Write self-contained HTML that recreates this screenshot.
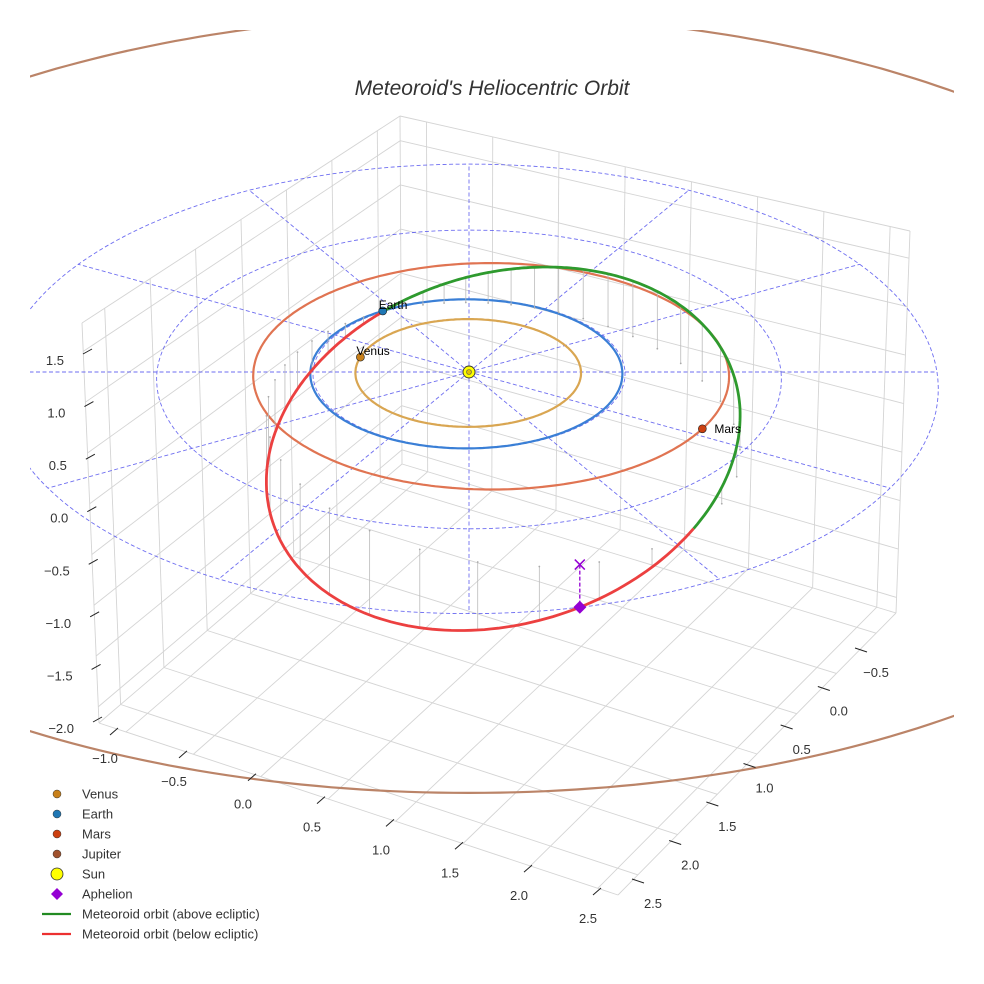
<!DOCTYPE html>
<html><head><meta charset="utf-8">
<style>
html,body{margin:0;padding:0;background:#fff;}
svg{display:block;font-family:"Liberation Sans",sans-serif;}
</style></head>
<body>
<svg id="chart" width="984" height="984" viewBox="0 0 984 984" xmlns="http://www.w3.org/2000/svg">
<defs><clipPath id="clip"><rect x="30" y="30" width="924" height="924"/></clipPath></defs>
<rect width="984" height="984" fill="#fff"/>
<g id="grid"></g>
<g id="plot" clip-path="url(#clip)"></g>
<g id="ticks"></g>
<text x="492" y="95" text-anchor="middle" font-size="21" font-style="italic" fill="#333">Meteoroid's Heliocentric Orbit</text>
<g id="legend"></g>
</svg>
<script>
// ---- data ----
const planetNames = ["Venus","Earth","Mars","Jupiter"];
const planetA = [0.723, 1.0, 1.524, 5.2];
const planetE = [0.007, 0.017, 0.093, 0.048];
const planetPeri = [0, 0, 180, 90];        // perihelion angle (deg) in ecliptic
const planetPos = [-164, -124, 27, 200];   // current angle (deg)
const planetOrbitColors = ["#d9a652","#3a7fd6","#e07452","#bb8468"];
const planetMarkerColors = ["#c8801a","#1f77b4","#cc4010","#a0522d"];
const gridRadii = [1, 2, 3];
const gridAngles = [0,30,60,90,120,150,180,210,240,270,300,330];
// meteoroid orbital elements (relative to line of nodes)
const metP = [1.415];
const metE = [0.445];
const metInc = [26];
const metNodeDir = [55.6];
const metPeriFromNode = [201];
const xTicks = [-1.0,-0.5,0.0,0.5,1.0,1.5,2.0,2.5];
const yTicks = [-0.5,0.0,0.5,1.0,1.5,2.0,2.5];
const zTicks = [-2.0,-1.5,-1.0,-0.5,0.0,0.5,1.0,1.5];
const xRange = [-1.2, 2.65];
const yRange = [-0.75, 2.75];
const zRange = [-2.16, 1.78];

const NS = "http://www.w3.org/2000/svg";
function mk(tag, attrs, parent){const e=document.createElementNS(NS,tag);for(const k in attrs)e.setAttribute(k,attrs[k]);parent.appendChild(e);return e;}
function P(u,v,z){const f=1/(1-0.025*v);return [469+156*u*f, 372+(74.5*v-100*z)*f];}
const D2R=Math.PI/180;
const plot=document.getElementById('plot'), grid=document.getElementById('grid'), ticks=document.getElementById('ticks'), legend=document.getElementById('legend');

// ---- box & gridlines ----
const T=[400,116],L=[82,323],B=[99,723],A=[402,464],R=[910,231],Dc=[896,613],C=[618,895];
function lerp(p,q,t){return [p[0]+(q[0]-p[0])*t,p[1]+(q[1]-p[1])*t];}
function fr(v,r){return (v-r[0])/(r[1]-r[0]);}
function gl(p,q,name){const l=mk('line',{x1:p[0],y1:p[1],x2:q[0],y2:q[1],stroke:'#d4d4d4','stroke-width':0.9},grid);

}
xTicks.forEach(t=>{const f=fr(t,xRange);gl(lerp(A,Dc,f),lerp(B,C,f),'floor-gridline-x');gl(lerp(T,R,f),lerp(A,Dc,f),'wall-gridline-x');});
yTicks.forEach(t=>{const f=fr(t,yRange);gl(lerp(A,B,f),lerp(Dc,C,f),'floor-gridline-y');gl(lerp(T,L,f),lerp(A,B,f),'wall-gridline-y');});
zTicks.forEach(t=>{const f=fr(t,zRange);gl(lerp(A,T,f),lerp(B,L,f),'wall-gridline-z');gl(lerp(A,T,f),lerp(Dc,R,f),'wall-gridline-z');});
[[T,L],[L,B],[B,A],[A,T],[T,R],[R,Dc],[Dc,A],[B,C],[C,Dc]].forEach(e=>gl(e[0],e[1],'box-edge'));

// ---- tick labels ----
function tickSet(vals,p0,p1,m0,m1,anchor,name){
  const n=vals.length;
  vals.forEach((v,i)=>{const t=(v-vals[0])/(vals[n-1]-vals[0]);const p=lerp(p0,p1,t);
    const tl=mk('line',{x1:p[0]+m0[0],y1:p[1]+m0[1],x2:p[0]+m1[0],y2:p[1]+m1[1],stroke:'#222','stroke-width':1},ticks);
    
    
    const tx=mk('text',{x:p[0],y:p[1]+5,'text-anchor':anchor,'font-size':13,fill:'#333'},ticks);
    tx.textContent=(v<0?'\u2212':'')+Math.abs(v).toFixed(1);
    
    });
}
tickSet(xTicks,[105,758],[588,918],[5,-23],[13,-30],'middle','x-axis');
tickSet(yTicks,[876,672],[653,903],[-21,-24],[-9,-20],'middle','y-axis');
tickSet(zTicks,[74,728],[64,360],[19,-6],[28,-11],'end','z-axis');

// ---- ecliptic dashed grid ----
function pathFrom(pts){return pts.map((p,i)=>(i?'L':'M')+p[0].toFixed(1)+' '+p[1].toFixed(1)).join(' ');}
gridRadii.forEach(r=>{const pts=[];for(let a=0;a<=360;a+=2)pts.push(P(r*Math.cos(a*D2R),r*Math.sin(a*D2R),0));
  const e=mk('path',{d:pathFrom(pts)+'Z',fill:'none',stroke:'#5555ee','stroke-width':0.9,'stroke-dasharray':'4 2.5',opacity:0.85},plot);
  
  });
gridAngles.forEach(a=>{const r=gridRadii[gridRadii.length-1];const p=P(r*Math.cos(a*D2R),r*Math.sin(a*D2R),0);const o=P(0,0,0);
  const e=mk('line',{x1:o[0],y1:o[1],x2:p[0],y2:p[1],stroke:'#5555ee','stroke-width':0.9,'stroke-dasharray':'4 2.5',opacity:0.85},plot);
  
  });

// ---- planet orbits ----
function planetR(i,a){const aa=planetA[i],e=planetE[i];return aa*(1-e*e)/(1+e*Math.cos((a-planetPeri[i])*D2R));}
planetNames.forEach((nm,i)=>{const pts=[];for(let a=0;a<=360;a+=1){const r=planetR(i,a);pts.push(P(r*Math.cos(a*D2R),r*Math.sin(a*D2R),0));}
  const e=mk('path',{d:pathFrom(pts)+'Z',fill:'none',stroke:planetOrbitColors[i],'stroke-width':2.2},plot);
  
  });

// ---- meteoroid orbit ----
const nd=metNodeDir[0]*D2R, inc=metInc[0]*D2R;
const n2=[Math.cos(nd),Math.sin(nd)], m=[-Math.sin(nd),Math.cos(nd)];
function met(psi){const r=metP[0]/(1+metE[0]*Math.cos((psi-metPeriFromNode[0])*D2R));const c=Math.cos(psi*D2R),s=Math.sin(psi*D2R);
  return [r*(c*n2[0]+s*Math.cos(inc)*m[0]), r*(c*n2[1]+s*Math.cos(inc)*m[1]), -r*s*Math.sin(inc)];}
// drop lines
for(let psi=0;psi<360;psi+=9){const q=met(psi);if(Math.abs(q[2])<0.05)continue;const p1=P(q[0],q[1],q[2]),p0=P(q[0],q[1],0);
  const e=mk('line',{x1:p0[0],y1:p0[1],x2:p1[0],y2:p1[1],stroke:'#bbb','stroke-width':0.8},plot);
  
  
  const d=mk('circle',{cx:p0[0],cy:p0[1],r:0.9,fill:'#aaa'},plot);
  
  }
const red=[],green=[];
for(let psi=0;psi<=180;psi+=1){const q=met(psi);red.push(P(q[0],q[1],q[2]));}
for(let psi=180;psi<=360;psi+=1){const q=met(psi);green.push(P(q[0],q[1],q[2]));}
const gp=mk('path',{d:pathFrom(green),fill:'none',stroke:'#2e9a2e','stroke-width':2.8},plot);


const rp=mk('path',{d:pathFrom(red),fill:'none',stroke:'#ec4040','stroke-width':2.8},plot);



// aphelion
const aphPsi=metPeriFromNode[0]-180;const aq=met(aphPsi);const ap=P(aq[0],aq[1],aq[2]),ap0=P(aq[0],aq[1],0);
const al=mk('line',{x1:ap0[0],y1:ap0[1],x2:ap[0],y2:ap[1],stroke:'#9400d3','stroke-width':1.3,'stroke-dasharray':'4 2'},plot);


const ax=mk('path',{d:`M${ap0[0]-5} ${ap0[1]-5}L${ap0[0]+5} ${ap0[1]+5}M${ap0[0]+5} ${ap0[1]-5}L${ap0[0]-5} ${ap0[1]+5}`,stroke:'#9400d3','stroke-width':1.5},plot);


const ad=mk('path',{d:`M${ap[0]} ${ap[1]-6.5}L${ap[0]+6.5} ${ap[1]}L${ap[0]} ${ap[1]+6.5}L${ap[0]-6.5} ${ap[1]}Z`,fill:'#9400d3'},plot);



// planet markers
planetNames.forEach((nm,i)=>{const a=planetPos[i],r=planetR(i,a);const p=P(r*Math.cos(a*D2R),r*Math.sin(a*D2R),0);
  const c=mk('circle',{cx:p[0],cy:p[1],r:4,fill:planetMarkerColors[i],stroke:'#222','stroke-width':0.6},plot);
  
  
  if(nm!=="Jupiter"){const t=mk('text',{x:nm==="Mars"?p[0]+12:p[0]-4,y:nm==="Mars"?p[1]+4:p[1]-2,'font-size':12,fill:'#000'},plot);
    t.textContent=nm;
    
    }});
// sun
const so=P(0,0,0);
const sc=mk('circle',{cx:so[0],cy:so[1],r:6,fill:'#ffff00',stroke:'#333','stroke-width':0.9},plot);


const sd=mk('circle',{cx:so[0],cy:so[1],r:2.5,fill:'#e0c000',stroke:'#555','stroke-width':0.6},plot);



// ---- legend ----
const legendLabels=["Venus","Earth","Mars","Jupiter","Sun","Aphelion","Meteoroid orbit (above ecliptic)","Meteoroid orbit (below ecliptic)"];
legendLabels.forEach((lb,i)=>{const y=794+i*20;const g=mk('g',{},legend);
  
  
  if(i<4)mk('circle',{cx:57,cy:y,r:4,fill:planetMarkerColors[i],stroke:'#333','stroke-width':0.5},g);
  else if(i===4)mk('circle',{cx:57,cy:y,r:6,fill:'#ffff00',stroke:'#333','stroke-width':0.8},g);
  else if(i===5)mk('path',{d:`M57 ${y-6}L63 ${y}L57 ${y+6}L51 ${y}Z`,fill:'#9400d3'},g);
  else mk('line',{x1:42,y1:y,x2:71,y2:y,stroke:i===6?'#228b22':'#ec3030','stroke-width':2.2},g);
  const t=mk('text',{x:82,y:y+4.5,'font-size':13,fill:'#333'},g);t.textContent=lb;});
</script>
</body></html>
